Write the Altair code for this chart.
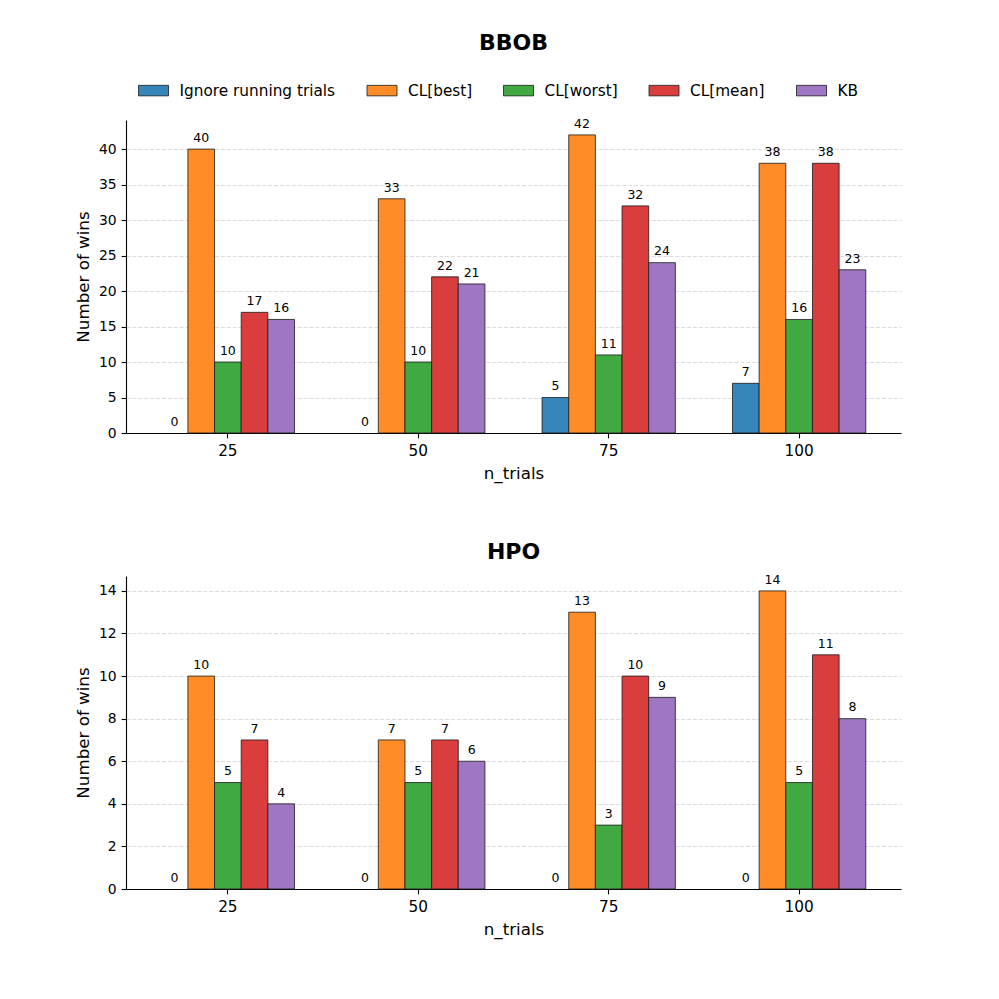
import altair as alt
import pandas as pd

methods = ["Ignore running trials", "CL[best]", "CL[worst]", "CL[mean]", "KB"]
n_trials = [25, 50, 75, 100]
colors = ["#3585bb", "#ff8c26", "#41a941", "#da3d3e", "#9f76c4"]

bbob_ignore = [0, 0, 5, 7]
bbob_best = [40, 33, 42, 38]
bbob_worst = [10, 10, 11, 16]
bbob_mean = [17, 22, 32, 38]
bbob_kb = [16, 21, 24, 23]

hpo_ignore = [0, 0, 0, 0]
hpo_best = [10, 7, 13, 14]
hpo_worst = [5, 5, 3, 5]
hpo_mean = [7, 7, 10, 11]
hpo_kb = [4, 6, 9, 8]


def make_df(series):
    rows = []
    for m, vals in zip(methods, series):
        for n, v in zip(n_trials, vals):
            rows.append({"n_trials": n, "method": m, "wins": v})
    return pd.DataFrame(rows)


bbob_df = make_df([bbob_ignore, bbob_best, bbob_worst, bbob_mean, bbob_kb])
hpo_df = make_df([hpo_ignore, hpo_best, hpo_worst, hpo_mean, hpo_kb])

FONT = "DejaVu Sans"


def panel(df, title, ymax, ticks, show_legend):
    x = alt.X("n_trials:O", sort=n_trials,
              scale=alt.Scale(paddingInner=0.3, paddingOuter=0.185),
              axis=alt.Axis(labelAngle=0, grid=False, labelFontSize=15.3,
                            labelPadding=5.9, titlePadding=6),
              title="n_trials")
    xo = alt.XOffset("method:N", sort=methods,
                     scale=alt.Scale(domain=methods, paddingInner=0, paddingOuter=0))
    y = alt.Y("wins:Q", scale=alt.Scale(domain=[0, ymax], nice=False, zero=True),
              axis=alt.Axis(values=ticks, grid=True, gridDash=[4.1, 1.8],
                            gridColor="#dcdcdc", gridWidth=1.1,
                            labelFontSize=13.9, titlePadding=6),
              title="Number of wins")
    if show_legend:
        leg = alt.Legend(orient="none", direction="horizontal", columns=5,
                         legendX=12, legendY=-45, title=None,
                         symbolType="M-1,-0.35H1V0.35H-1Z", symbolSize=900,
                         symbolStrokeColor="#1a1a1a", symbolStrokeWidth=0.8,
                         symbolOpacity=1, labelFontSize=15.3, labelFont=FONT,
                         labelColor="#000000", labelOffset=10.5,
                         columnPadding=28.5, padding=0)
    else:
        leg = None
    fill = alt.Fill("method:N", sort=methods,
                    scale=alt.Scale(domain=methods, range=colors), legend=leg)
    bars = alt.Chart(df).transform_filter("datum.wins > 0").mark_bar(
        stroke="#1a1a1a", strokeWidth=0.8, opacity=1).encode(
        x=x, xOffset=xo, y=y, fill=fill)
    labels = alt.Chart(df).mark_text(baseline="bottom", dy=-4.2, fontSize=12.5,
                                     font=FONT, color="#000000").encode(
        x=x, xOffset=xo, y=y, text=alt.Text("wins:Q"))
    return alt.layer(bars, labels).properties(
        width=775, height=313,
        title=alt.TitleParams(title, fontSize=22, fontWeight="bold", font=FONT,
                              color="#000000", offset=10 if not show_legend else 20,
                              anchor="middle"))


top = panel(bbob_df, "BBOB", 44.1, list(range(0, 45, 5)), True)
bottom = panel(hpo_df, "HPO", 14.7, list(range(0, 15, 2)), False)

chart = alt.vconcat(top, bottom, spacing=58).resolve_legend(fill="independent").properties(
    padding={"left": 67, "top": 24, "right": 10, "bottom": 10}
).configure(font=FONT).configure_view(strokeWidth=0).configure_axis(
    domainColor="#000000", domainWidth=1.1, tickColor="#000000", tickWidth=1.1,
    tickSize=4.9, labelPadding=4.9, labelColor="#000000", labelFont=FONT,
    titleFont=FONT, titleColor="#000000", titleFontSize=16.7,
    titleFontWeight="normal"
)

chart.save("out.html", embed_options={"renderer": "svg", "actions": False})
